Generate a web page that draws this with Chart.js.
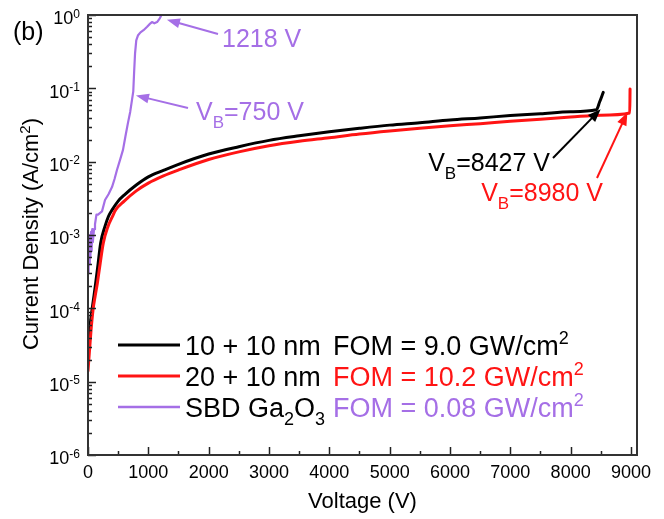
<!DOCTYPE html>
<html>
<head>
<meta charset="utf-8">
<script src="https://cdn.jsdelivr.net/npm/chart.js@4/dist/chart.umd.min.js"></script>
<style>
  html, body { margin: 0; padding: 0; background: #ffffff; }
  #wrap { width: 664px; height: 519px; }
</style>
</head>
<body>
<div id="wrap"><canvas id="c" width="664" height="519"></canvas></div>
<script>
// Reverse J-V characteristics: voltage (V) and current density (A/cm^2)
const volt1010 = [0, 30, 66, 100, 127, 160, 210, 280, 340, 400, 500, 600, 800, 1000, 1250, 1500, 2000, 2500, 3000, 3500, 4000, 4500, 5000, 5500, 6000, 6500, 7000, 7500, 8000, 8427, 8480, 8540];
const curr1010 = [3e-5, 5.5e-5, 9.5e-5, 1.5e-4, 2.2e-4, 3.6e-4, 7.8e-4, 1.3e-3, 1.8e-3, 2.2e-3, 2.9e-3, 3.5e-3, 4.8e-3, 6.2e-3, 7.6e-3, 9.2e-3, 1.27e-2, 1.6e-2, 1.95e-2, 2.25e-2, 2.55e-2, 2.85e-2, 3.15e-2, 3.4e-2, 3.7e-2, 3.95e-2, 4.25e-2, 4.5e-2, 4.8e-2, 5.1e-2, 6.5e-2, 8.8e-2];

const volt2010 = [0, 50, 83, 120, 155, 200, 254, 330, 400, 458, 600, 800, 1000, 1250, 1500, 2000, 2500, 3000, 3500, 4000, 4500, 5000, 5500, 6000, 6500, 7000, 7500, 8000, 8500, 8980, 8985];
const curr2010 = [1.4e-5, 5e-5, 9.5e-5, 1.5e-4, 2.2e-4, 4e-4, 7.8e-4, 1.3e-3, 1.75e-3, 2.2e-3, 2.9e-3, 4.0e-3, 5.1e-3, 6.4e-3, 7.7e-3, 1.07e-2, 1.36e-2, 1.65e-2, 1.9e-2, 2.12e-2, 2.38e-2, 2.62e-2, 2.85e-2, 3.08e-2, 3.3e-2, 3.55e-2, 3.8e-2, 4.05e-2, 4.3e-2, 4.6e-2, 0.098];

const voltSbd = [0, 10, 20, 30, 40, 50, 60, 70, 80, 100, 116, 140, 166, 232, 282, 340, 398, 440, 480, 530, 580, 620, 660, 700, 730, 750, 765, 780, 800, 830, 870, 920, 980, 1020, 1060, 1100, 1145, 1190, 1218];
const currSbd = [3e-4, 9e-4, 4e-4, 1e-3, 5e-4, 1.1e-3, 6e-4, 1.2e-3, 8e-4, 1.2e-3, 1.4e-3, 1.9e-3, 1.9e-3, 2.1e-3, 3.0e-3, 3.6e-3, 4.5e-3, 5.8e-3, 7.7e-3, 1.05e-2, 1.45e-2, 2.2e-2, 3.3e-2, 4.8e-2, 7e-2, 9e-2, 0.17, 0.3, 0.45, 0.53, 0.58, 0.62, 0.69, 0.75, 0.8, 0.77, 0.8, 0.9, 1.0];

// Axis ticks
const xMajorTicks = [0, 1000, 2000, 3000, 4000, 5000, 6000, 7000, 8000, 9000];
const xMinorTicks = [500, 1500, 2500, 3500, 4500, 5500, 6500, 7500, 8500];
const yDecades = [-6, -5, -4, -3, -2, -1, 0];

// Legend / annotation text
const seriesNames = ['10 + 10 nm', '20 + 10 nm', 'SBD Ga2O3'];
const fomValues = ['9.0', '10.2', '0.08'];
const breakdownVolts = [8427, 8980, 750];
const peakVolt = 1218;

const COLORS = ['#000000', '#ff1414', '#a56fe6'];
const FONT = '"Liberation Sans", Arial, Helvetica, sans-serif';

function toPoints(xs, ys) { return xs.map((v, i) => ({ x: v, y: ys[i] })); }

function fontStr(size) { return size + 'px ' + FONT; }

// Draw text runs with normal (0), subscript (1) and superscript (2) parts
function drawRich(ctx, parts, x, y, size, color, align) {
  const small = Math.round(size * 0.66);
  const widths = parts.map(([t, k]) => { ctx.font = fontStr(k ? small : size); return ctx.measureText(t).width; });
  const total = widths.reduce((a, b) => a + b, 0);
  let cx = align === 'right' ? x - total : align === 'center' ? x - total / 2 : x;
  ctx.fillStyle = color;
  ctx.textAlign = 'left';
  ctx.textBaseline = 'alphabetic';
  const base = y + size * 0.36;
  parts.forEach(([t, k], i) => {
    ctx.font = fontStr(k ? small : size);
    const dy = k === 1 ? size * 0.3 : k === 2 ? -size * 0.38 : 0;
    ctx.fillText(t, cx, base + dy);
    cx += widths[i];
  });
  return total;
}

function arrow(ctx, x1, y1, x2, y2, color) {
  const ang = Math.atan2(y2 - y1, x2 - x1);
  const len = 13, half = 5;
  ctx.save();
  ctx.strokeStyle = color;
  ctx.fillStyle = color;
  ctx.lineWidth = 2;
  ctx.beginPath();
  ctx.moveTo(x1, y1);
  ctx.lineTo(x2 - Math.cos(ang) * len * 0.8, y2 - Math.sin(ang) * len * 0.8);
  ctx.stroke();
  ctx.beginPath();
  ctx.moveTo(x2, y2);
  ctx.lineTo(x2 - Math.cos(ang) * len - Math.sin(ang) * half, y2 - Math.sin(ang) * len + Math.cos(ang) * half);
  ctx.lineTo(x2 - Math.cos(ang) * len + Math.sin(ang) * half, y2 - Math.sin(ang) * len - Math.cos(ang) * half);
  ctx.closePath();
  ctx.fill();
  ctx.restore();
}

// "Ga2O3" -> digits following a letter become subscripts
function splitSub(name) {
  if (!/[A-Za-z]\d/.test(name) || /\s\d/.test(name)) return [[name, 0]];
  const parts = [];
  const re = /([A-Za-z])(\d)/g;
  let last = 0, m;
  while ((m = re.exec(name)) !== null) {
    parts.push([name.slice(last, m.index + 1), 0]);
    parts.push([m[2], 1]);
    last = m.index + 2;
  }
  if (last < name.length) parts.push([name.slice(last), 0]);
  return parts;
}

const decorPlugin = {
  id: 'decor',
  afterDraw(chart) {
    const ctx = chart.ctx;
    const xs = chart.scales.x, ys = chart.scales.y;
    const a = chart.chartArea;
    ctx.save();

    // inward ticks on left and bottom axes
    ctx.strokeStyle = '#222222';
    ctx.lineWidth = 1.5;
    const tick = (x1, y1, x2, y2) => { ctx.beginPath(); ctx.moveTo(x1, y1); ctx.lineTo(x2, y2); ctx.stroke(); };
    yDecades.forEach(d => {
      const yp = Math.round(ys.getPixelForValue(Math.pow(10, d))) + 0.5;
      tick(a.left, yp, a.left + 8, yp);
      if (d < 0) {
        for (let k = 2; k <= 9; k++) {
          const ym = Math.round(ys.getPixelForValue(k * Math.pow(10, d))) + 0.5;
          tick(a.left, ym, a.left + 4, ym);
        }
      }
    });
    xMajorTicks.forEach(v => {
      const xp = Math.round(xs.getPixelForValue(v)) + 0.5;
      tick(xp, a.bottom, xp, a.bottom - 8);
    });
    xMinorTicks.forEach(v => {
      const xp = Math.round(xs.getPixelForValue(v)) + 0.5;
      tick(xp, a.bottom, xp, a.bottom - 4);
    });

    // frame
    ctx.strokeStyle = '#333333';
    ctx.lineWidth = 2;
    ctx.strokeRect(a.left, a.top, a.right - a.left, a.bottom - a.top);

    // tick labels
    xMajorTicks.forEach(v => {
      drawRich(ctx, [[String(v), 0]], xs.getPixelForValue(v), a.bottom + 17, 18, '#000', 'center');
    });
    yDecades.forEach(d => {
      drawRich(ctx, [['10', 0], [d === 0 ? '0' : String(d), 2]], a.left - 8, ys.getPixelForValue(Math.pow(10, d)) + 3, 18, '#000', 'right');
    });

    // axis titles
    drawRich(ctx, [['Voltage (V)', 0]], (a.left + a.right) / 2, a.bottom + 45, 22, '#000', 'center');
    ctx.save();
    ctx.translate(30, 234);
    ctx.rotate(-Math.PI / 2);
    drawRich(ctx, [['Current Density (A/cm', 0], ['2', 2], [')', 0]], 0, 0, 22, '#000', 'center');
    ctx.restore();

    // panel tag
    drawRich(ctx, [['(b)', 0]], 13, 31, 25, '#000', 'left');

    // legend
    const legY = [345, 376, 407];
    seriesNames.forEach((name, i) => {
      ctx.strokeStyle = COLORS[i];
      ctx.lineWidth = i === 2 ? 2.5 : 3;
      ctx.beginPath(); ctx.moveTo(118, legY[i]); ctx.lineTo(180, legY[i]); ctx.stroke();
      drawRich(ctx, splitSub(name), 185, legY[i], 27, '#000', 'left');
      drawRich(ctx, [['FOM = ' + fomValues[i] + ' GW/cm', 0], ['2', 2]], 333, legY[i], 27, COLORS[i], 'left');
    });

    // breakdown annotations
    drawRich(ctx, [['V', 0], ['B', 1], ['=' + breakdownVolts[0] + ' V', 0]], 550, 162, 25, COLORS[0], 'right');
    arrow(ctx, 553, 158, xs.getPixelForValue(breakdownVolts[0] + 70), ys.getPixelForValue(0.052), COLORS[0]);

    drawRich(ctx, [['V', 0], ['B', 1], ['=' + breakdownVolts[1] + ' V', 0]], 603, 192, 25, COLORS[1], 'right');
    arrow(ctx, 597, 178, xs.getPixelForValue(breakdownVolts[1] - 40), ys.getPixelForValue(0.047), COLORS[1]);

    drawRich(ctx, [['V', 0], ['B', 1], ['=' + breakdownVolts[2] + ' V', 0]], 196, 111, 25, COLORS[2], 'left');
    arrow(ctx, 188, 108, xs.getPixelForValue(breakdownVolts[2] + 45), ys.getPixelForValue(0.08), COLORS[2]);

    drawRich(ctx, [[peakVolt + ' V', 0]], 222, 38, 25, COLORS[2], 'left');
    arrow(ctx, 218, 34, xs.getPixelForValue(peakVolt + 90), ys.getPixelForValue(0.86), COLORS[2]);

    ctx.restore();
  }
};

new Chart(document.getElementById('c'), {
  type: 'line',
  data: {
    datasets: [
      { label: seriesNames[1], data: toPoints(volt2010, curr2010), borderColor: COLORS[1], borderWidth: 3, order: 1, cubicInterpolationMode: 'monotone' },
      { label: seriesNames[0], data: toPoints(volt1010, curr1010), borderColor: COLORS[0], borderWidth: 3, order: 2, cubicInterpolationMode: 'monotone' },
      { label: seriesNames[2], data: toPoints(voltSbd, currSbd), borderColor: COLORS[2], borderWidth: 2.2, order: 3 }
    ]
  },
  options: {
    responsive: false,
    devicePixelRatio: 1,
    animation: false,
    elements: { point: { radius: 0 }, line: { tension: 0, borderJoinStyle: 'round', borderCapStyle: 'round' } },
    layout: { padding: { left: 88, top: 15, right: 27, bottom: 64 } },
    plugins: { legend: { display: false }, tooltip: { enabled: false } },
    scales: {
      x: { type: 'linear', min: 0, max: 9100, display: false },
      y: { type: 'logarithmic', min: 1e-6, max: 1, display: false }
    }
  },
  plugins: [decorPlugin]
});
</script>
</body>
</html>
